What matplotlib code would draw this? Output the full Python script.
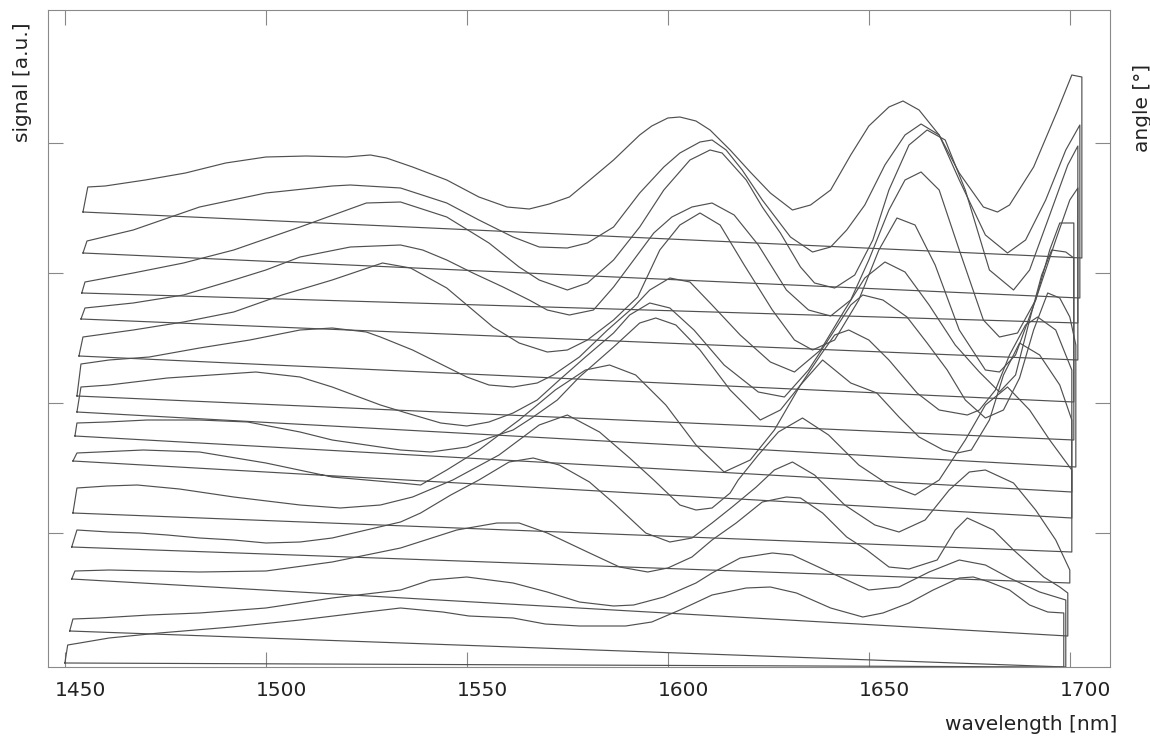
import matplotlib
matplotlib.use("Agg")
import matplotlib.pyplot as plt
import matplotlib.transforms as mtransforms

# ---- spectra (wavelength [nm], signal [a.u.]), top trace first ----
T1_wl = [1455.7, 1460, 1470, 1480, 1490, 1500, 1510, 1520, 1526, 1530, 1536.5, 1545, 1553, 1560, 1565.5,
         1570.5, 1575.5, 1580, 1586.5, 1593, 1596, 1600, 1603, 1607, 1610.5, 1615.5, 1620.5, 1625.5, 1631,
         1635.5, 1640.5, 1645.5, 1650, 1655, 1658.5, 1662.5, 1667.5, 1672.5, 1678.5, 1682, 1685, 1691,
         1697, 1700.5, 1703]
T1_sig = [478, 479, 485, 492, 502, 508, 509, 508, 510, 507, 498, 485, 468, 458, 456,
          461, 468, 483, 505, 530, 539, 547, 548, 544, 535, 515, 493, 472, 455,
          460, 475, 510, 539, 558, 564, 555, 530, 492, 458, 453, 460, 498,
          555, 590, 588]

T2_wl = [1455.5, 1467, 1483.5, 1500, 1516.5, 1521, 1533.5, 1545, 1553, 1561.5, 1568, 1575, 1580, 1586.5,
         1593, 1599, 1603, 1608, 1611, 1614.5, 1618.5, 1623.5, 1630.5, 1636, 1640.5, 1644.5, 1649, 1654,
         1659, 1663, 1667.5, 1672.5, 1679, 1684.5, 1689, 1694, 1699, 1702.5]
T2_sig = [424, 435, 458, 472, 479, 480, 477, 462, 445, 428, 418, 417, 422, 438,
          472, 498, 512, 523, 525, 515, 495, 465, 428, 413, 418, 435, 460, 500,
          530, 541, 530, 485, 430, 412, 425, 465, 515, 540]

T3_wl = [1455, 1467, 1479.5, 1492, 1508.5, 1525, 1533.5, 1545, 1555.5, 1563, 1568, 1575, 1580, 1586.5,
         1593, 1599, 1605.5, 1610.5, 1613.5, 1619.5, 1623.5, 1628, 1633, 1636.5, 1641.5, 1646.5, 1651,
         1655, 1660, 1664.5, 1669, 1674, 1680, 1686, 1690, 1695, 1699.5, 1702]
T3_sig = [383, 392, 402, 415, 438, 462, 463, 448, 422, 398, 385, 375, 382, 405,
          438, 475, 505, 515, 512, 485, 458, 432, 398, 382, 377, 390, 425,
          475, 520, 535, 525, 475, 395, 375, 395, 450, 500, 519]

T4_wl = [1455, 1467, 1479.5, 1492, 1500, 1508.5, 1521, 1533.5, 1539, 1545, 1551.5, 1559, 1565.5, 1570,
         1575.5, 1581.5, 1586.5, 1591.5, 1596.5, 1601, 1606, 1611, 1616.5, 1622.5, 1629.5, 1635, 1640.5,
         1645.5, 1650, 1655, 1659, 1663, 1667.5, 1672.5, 1678.5, 1682.5, 1687, 1691.5, 1696.5, 1700, 1702]
T4_sig = [357, 362, 370, 385, 395, 408, 418, 420, 415, 405, 392, 378, 365, 355,
          350, 355, 378, 405, 432, 448, 458, 462, 450, 420, 375, 355, 349,
          365, 405, 455, 485, 493, 475, 415, 345, 328, 332, 365, 425, 465, 477]

T5_wl = [1454.5, 1467, 1479.5, 1492, 1504, 1516.5, 1529, 1536, 1545, 1556.5, 1563, 1570, 1575, 1580,
         1586.5, 1592.5, 1598, 1603, 1608, 1613, 1619, 1626, 1631.5, 1636, 1641.5, 1647.5, 1652.5, 1657,
         1661.5, 1666.5, 1672.5, 1679, 1682.5, 1686.5, 1691.5, 1695, 1697.5, 1701]
T5_sig = [328, 335, 343, 353, 370, 385, 402, 397, 377, 338, 322, 313, 315, 325,
          345, 368, 415, 440, 452, 440, 400, 355, 325, 315, 325, 365, 415, 447,
          440, 400, 335, 295, 293, 310, 365, 415, 442, 442]

T6_wl = [1454, 1461, 1471, 1483.5, 1496, 1508.5, 1516.5, 1525, 1528.5, 1536.5, 1545, 1550, 1555.5, 1561.5,
         1567.5, 1571.5, 1578, 1585, 1591.5, 1595.5, 1600.5, 1605.5, 1611, 1618, 1625.5, 1631.5, 1638,
         1644, 1649, 1654, 1659, 1665, 1671.5, 1677.5, 1682.5, 1686.5, 1690, 1693, 1695.5, 1699, 1701]
T6_sig = [301, 305, 308, 317, 325, 335, 337, 333, 328, 315, 298, 288, 280, 278,
          282, 290, 308, 335, 358, 375, 387, 383, 360, 330, 303, 293, 315,
          355, 387, 403, 393, 360, 320, 293, 273, 290, 345, 390, 415, 413, 407]

T7_wl = [1454, 1461, 1475.5, 1497.5, 1508.5, 1516.5, 1528.5, 1535, 1543.5, 1550, 1555.5, 1561.5, 1567.5,
         1573, 1579.5, 1586.5, 1590.5, 1595.5, 1600.5, 1606.5, 1614, 1622.5, 1629, 1635, 1641.5, 1645.5,
         1648.5, 1653.5, 1659.5, 1664.5, 1669.5, 1674, 1679, 1683.5, 1687.5, 1691, 1694.5, 1697.5, 1700,
         1701.5]
T7_sig = [278, 280, 287, 293, 288, 278, 260, 252, 242, 239, 243, 252, 265,
          285, 308, 332, 350, 362, 357, 335, 300, 273, 268, 295, 335, 360,
          370, 365, 348, 322, 295, 265, 247, 255, 287, 335, 372, 367, 348,
          320]

T8_wl = [1453, 1460.5, 1470.5, 1483.5, 1495.5, 1508.5, 1516.5, 1525, 1533.5, 1541, 1550, 1555.5, 1561.5,
         1566.5, 1572.5, 1578, 1586.5, 1593, 1597, 1602, 1608, 1615.5, 1623, 1628, 1633, 1638, 1641.5,
         1645, 1650, 1655, 1662, 1667.5, 1674.5, 1677.5, 1681.5, 1685, 1689, 1692, 1696.5, 1700.5]
T8_sig = [242, 243, 245, 245, 243, 233, 225, 220, 215, 213, 218, 227, 235,
          248, 265, 288, 318, 342, 347, 340, 315, 275, 245, 255, 280, 310, 330,
          335, 325, 305, 272, 255, 250, 255, 275, 310, 340, 348, 335, 295]

T9_wl = [1453, 1458.5, 1469.5, 1483.5, 1500, 1516.5, 1533.5, 1538.5, 1545, 1553, 1563, 1572, 1579.5,
         1585.5, 1592, 1599.5, 1607, 1614, 1620.5, 1626.5, 1633, 1638.5, 1645.5, 1652, 1657.5, 1662.5,
         1668.5, 1672, 1675.5, 1680, 1683.5, 1687.5, 1692.5, 1697.5, 1700.5]
T9_sig = [212, 213, 215, 213, 202, 188, 182, 180, 195, 215, 245, 275, 295,
          300, 290, 260, 220, 193, 205, 235, 280, 305, 282, 272, 248, 228,
          215, 212, 215, 245, 290, 322, 310, 280, 245]

T10_wl = [1453, 1460.5, 1468, 1478.5, 1492, 1508.5, 1518.5, 1528.5, 1536.5, 1546.5, 1558, 1568, 1575,
          1583, 1590.5, 1596.5, 1603, 1607, 1611, 1615.5, 1617.5, 1622.5, 1627.5, 1633.5, 1640, 1647.5,
          1655, 1661.5, 1667.5, 1674, 1679, 1684.5, 1690, 1695, 1700.5]
T10_sig = [177, 179, 180, 176, 168, 160, 157, 160, 168, 185, 210, 240, 250,
           233, 207, 185, 160, 155, 157, 172, 185, 210, 233, 247, 230, 200,
           180, 170, 185, 225, 260, 278, 255, 225, 195]

T11_wl = [1453, 1461, 1468.5, 1475.5, 1483.5, 1492, 1500, 1508.5, 1516.5, 1525, 1533.5, 1538.5, 1546,
          1553, 1560.5, 1566.5, 1573, 1580.5, 1586.5, 1594.5, 1600.5, 1606, 1611, 1616, 1622, 1626.5,
          1631, 1636.5, 1644, 1651.5, 1657.5, 1664, 1670, 1675, 1679, 1686, 1691.5, 1696.5, 1700]
T11_sig = [135, 133, 132, 130, 127, 125, 122, 123, 127, 135, 143, 152, 170,
           185, 203, 207, 200, 183, 162, 132, 123, 127, 142, 158, 178, 195,
           203, 190, 160, 140, 133, 145, 175, 193, 195, 182, 155, 125, 95]

T12_wl = [1452.5, 1461, 1483.5, 1500, 1516.5, 1533.5, 1547.5, 1557.5, 1563, 1570, 1580, 1588, 1595, 1600,
          1606, 1611, 1617, 1623.5, 1629.5, 1633, 1638.5, 1644.5, 1649.5, 1655, 1660, 1667, 1671.5,
          1674.5, 1681, 1686, 1693.5, 1697.5, 1699.5]
T12_sig = [94, 95, 93, 94, 103, 117, 135, 142, 142, 132, 113, 98, 93, 97,
           108, 125, 142, 163, 168, 167, 152, 128, 115, 98, 96, 105, 135,
           147, 135, 115, 88, 78, 72]

T13_wl = [1452, 1458.5, 1471, 1483.5, 1500, 1516.5, 1533.5, 1541, 1550, 1561.5, 1570, 1578, 1586.5,
          1591.5, 1599, 1607, 1611, 1618, 1626, 1631, 1638, 1644.5, 1650, 1657.5, 1665, 1672.5, 1679,
          1685, 1692.5, 1699]
T13_sig = [46, 47, 50, 52, 57, 67, 75, 85, 88, 82, 73, 63, 59,
           60, 68, 82, 92, 107, 112, 110, 97, 85, 75, 78, 93, 105, 100,
           87, 73, 65]

T14_wl = [1450.7, 1453.7, 1461, 1473.5, 1491.5, 1508.5, 1525, 1533.5, 1544, 1550.5, 1561.5, 1569.5, 1578,
          1589.5, 1596, 1603, 1611, 1619.5, 1625.5, 1632, 1640.5, 1648.5, 1653.5, 1660, 1666, 1672.5,
          1676, 1680, 1685, 1690, 1694.5, 1698.5]
T14_sig = [20, 22, 27, 32, 38, 45, 53, 57, 53, 49, 47, 41, 39,
           39, 43, 55, 70, 77, 78, 72, 57, 48, 52, 62, 75, 87,
           88, 83, 75, 60, 53, 52]

# sloped baseline of every trace (left start, right end)
base_left_wl = [1454.5, 1454.5, 1454.2, 1454, 1453.5, 1453, 1453, 1452.5, 1452, 1452, 1451.7, 1451.7, 1451.2, 1450]
base_left = [453, 412, 372, 346, 309, 269, 253, 229, 204, 152, 118, 86, 34, 2]
base_right = [407, 367, 342, 305, 263, 225, 198, 173, 147, 113, 82, 29, -2, -2]

wl_ticks = [1450, 1500, 1550, 1600, 1650, 1700]
sig_ticks = [132, 262, 392, 522]

traces = [(T1_wl, T1_sig), (T2_wl, T2_sig), (T3_wl, T3_sig), (T4_wl, T4_sig), (T5_wl, T5_sig),
          (T6_wl, T6_sig), (T7_wl, T7_sig), (T8_wl, T8_sig), (T9_wl, T9_sig), (T10_wl, T10_sig),
          (T11_wl, T11_sig), (T12_wl, T12_sig), (T13_wl, T13_sig), (T14_wl, T14_sig)]

plt.rcParams['font.family'] = ['DejaVu Sans']

fig = plt.figure(figsize=(11.5, 7.4), dpi=100)
ax = fig.add_axes([48 / 1150, 1 - 667 / 740, (1110 - 48) / 1150, (667 - 10) / 740])

for i, (wl, sig) in enumerate(traces):
    # closed outline: left edge up, spectrum, right edge down, sloped baseline back
    xs = [base_left_wl[i]] + wl + [wl[-1], base_left_wl[i]]
    ys = [base_left[i]] + sig + [base_right[i], base_left[i]]
    ax.plot(xs, ys, color='#505050', lw=0.85)

ax.set_xlim(1445.8, 1710)
ax.set_ylim(-2, 655)
ax.set_xticks(wl_ticks)
ax.set_xticklabels([str(t) for t in wl_ticks])
ax.set_yticks(sig_ticks)
ax.set_yticklabels([])
ax.tick_params(direction='in', length=11, width=0.8, color='#888888', top=True, right=True,
               labelsize=14.5, pad=10, labelcolor='#222222')
for sp in ax.spines.values():
    sp.set_color('#8a8a8a')
    sp.set_linewidth(0.8)

shift = mtransforms.ScaledTranslation(0.16, 0, fig.dpi_scale_trans)
for lab in ax.get_xticklabels():
    lab.set_transform(lab.get_transform() + shift)

fig.text(23 / 1150, 1 - 82 / 740, 'signal [a.u.]', rotation=90, ha='center', va='center',
         fontsize=14.5, color='#222222')
fig.text(1142 / 1150, 1 - 108 / 740, 'angle [°]', rotation=90, ha='center', va='center',
         fontsize=14.5, color='#222222')
fig.text(1117 / 1150, 1 - 725 / 740, 'wavelength [nm]', ha='right', va='center',
         fontsize=14.5, color='#222222')

fig.savefig('out.png', dpi=100)
